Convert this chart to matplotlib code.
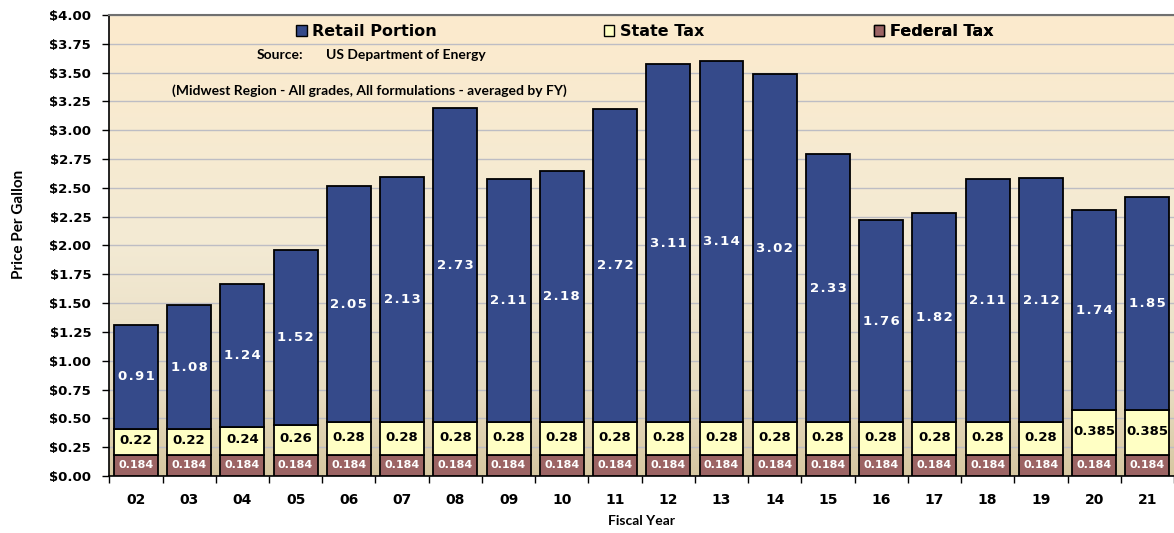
import numpy as np
import matplotlib
matplotlib.use("Agg")
import matplotlib.pyplot as plt
from matplotlib.colors import LinearSegmentedColormap
from matplotlib.patches import Patch

# ----------------------------
# Data
# ----------------------------
years = ["02", "03", "04", "05", "06", "07", "08", "09", "10", "11",
         "12", "13", "14", "15", "16", "17", "18", "19", "20", "21"]
federal_tax = [0.184] * 20
state_tax = [0.22, 0.22, 0.24, 0.26, 0.28, 0.28, 0.28, 0.28, 0.28, 0.28,
             0.28, 0.28, 0.28, 0.28, 0.28, 0.28, 0.28, 0.28, 0.385, 0.385]
retail = [0.91, 1.08, 1.24, 1.52, 2.05, 2.13, 2.73, 2.11, 2.18, 2.72,
          3.11, 3.14, 3.02, 2.33, 1.76, 1.82, 2.11, 2.12, 1.74, 1.85]
series_names = ["Retail Portion", "State Tax", "Federal Tax"]

C_RETAIL = "#354a8a"
C_STATE = "#ffffc4"
C_FED = "#9c6464"

fig = plt.figure(figsize=(11.74, 5.33), dpi=100)
ax = fig.add_axes([0.0931, 0.107, 0.9069, 0.865])

# background gradient (peach at top, tan at the bottom)
bg_cmap = LinearSegmentedColormap.from_list(
    "bg", [(0.0, "#d6c7a1"), (0.18, "#e7dcc0"), (0.5, "#f3ead4"), (1.0, "#fcebcd")])
grad = np.linspace(1, 0, 256).reshape(-1, 1)
ax.imshow(grad, extent=[0, 1, 0, 1], transform=ax.transAxes, aspect="auto",
          cmap=bg_cmap, vmin=0, vmax=1, zorder=0)

x = np.arange(len(years))
fed = np.array(federal_tax)
st = np.array(state_tax)
ret = np.array(retail)
w = 0.825

ax.bar(x, fed, width=w, color=C_FED, edgecolor="black", linewidth=1.3, zorder=3)
ax.bar(x, st, width=w, bottom=fed, color=C_STATE, edgecolor="black", linewidth=1.3, zorder=3)
ax.bar(x, ret, width=w, bottom=fed + st, color=C_RETAIL, edgecolor="black", linewidth=1.3, zorder=3)

for i in range(len(years)):
    ax.text(x[i], fed[i] / 2, f"{federal_tax[i]:g}", ha="center", va="center",
            color="white", fontsize=8, fontweight="bold", zorder=4)
    ax.text(x[i], fed[i] + st[i] / 2 + 0.01, f"{state_tax[i]:g}", ha="center", va="center",
            color="black", fontsize=9.5, fontweight="bold", zorder=4)
    # retail labels are letter-spaced in the original
    ax.text(x[i], fed[i] + st[i] + ret[i] / 2, "\u200a".join(f"{retail[i]:.2f}"),
            ha="center", va="center", color="white", fontsize=9.5, fontweight="bold", zorder=4)

ax.set_xlim(-0.5, len(years) - 0.5)
ax.set_ylim(0, 4.0)

# axes styling
ax.set_yticks(np.arange(0, 4.01, 0.25))
ax.set_yticklabels([f"${v:.2f}" for v in np.arange(0, 4.01, 0.25)],
                   fontsize=9.5, fontweight="bold")
ax.set_xticks(x)
ax.set_xticklabels(years, fontsize=10, fontweight="bold")
ax.set_xticks(np.arange(-0.5, len(years), 1.0), minor=True)
ax.tick_params(axis="x", which="major", length=0, pad=12)
ax.tick_params(axis="x", which="minor", length=5, width=1, direction="out")
ax.tick_params(axis="y", length=5, width=1, direction="out", pad=8)

ax.set_axisbelow(True)
ax.grid(axis="y", color="#bdbdc4", linewidth=1.0)
for s in ["left", "bottom"]:
    ax.spines[s].set_color("black")
    ax.spines[s].set_linewidth(1.2)
ax.spines["top"].set_color("#707070")
ax.spines["top"].set_linewidth(1.5)
ax.spines["right"].set_visible(False)

ax.set_xlabel("Fiscal Year", fontsize=10, fontweight="bold", family="Lato", labelpad=6)
ax.set_ylabel("Price Per Gallon", fontsize=11, fontweight="bold", family="Lato")
ax.yaxis.set_label_coords(-0.078, 0.545)

# legend entries across the top, placed one by one (uneven spacing in original)
handles = [Patch(facecolor=C_RETAIL, edgecolor="black", linewidth=1),
           Patch(facecolor=C_STATE, edgecolor="black", linewidth=1),
           Patch(facecolor=C_FED, edgecolor="black", linewidth=1)]
legend_x = [0.1758, 0.4645, 0.7178]
for h, name, lx in zip(handles, series_names, legend_x):
    leg = ax.legend([h], [name], loc="center left", bbox_to_anchor=(lx, 0.9635),
                    frameon=False, borderpad=0, borderaxespad=0,
                    handlelength=0.65, handleheight=0.65, handletextpad=0.35,
                    prop={"weight": "bold", "size": 11.5})
    ax.add_artist(leg)

ax.text(0.1386, 0.9135, "Source:", transform=ax.transAxes, ha="left", va="center",
        fontsize=10, fontweight="bold", family="Lato", zorder=5)
ax.text(0.2033, 0.9135, "US Department of Energy", transform=ax.transAxes, ha="left",
        va="center", fontsize=10, fontweight="bold", family="Lato", zorder=5)
ax.text(0.2446, 0.835, "(Midwest Region - All grades, All formulations - averaged by FY)",
        transform=ax.transAxes, ha="center", va="center", fontsize=10, fontweight="bold",
        family="Lato", zorder=5)

fig.savefig("out.png", dpi=100)
